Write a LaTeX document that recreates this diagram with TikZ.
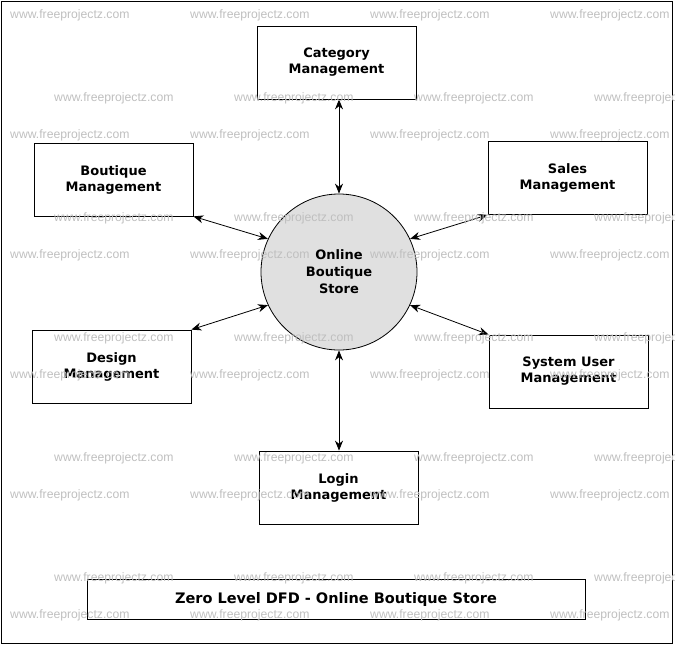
\documentclass[tikz,border=0pt]{standalone}
\usepackage{fontspec}
\setmainfont{DejaVu Sans}
\newfontfamily\wmfont{Liberation Sans}
\usetikzlibrary{arrows.meta}
\begin{document}
\begin{tikzpicture}[x=1pt,y=-1pt,
  proc/.style={draw,thick,minimum width=159pt,minimum height=73pt,align=center,font=\bfseries\fontsize{13}{16}\selectfont},
  flow/.style={thick,{Stealth[length=10pt,width=8pt]}-{Stealth[length=10pt,width=8pt]}},
  wm/.style={anchor=west,text=black!25,font=\wmfont\fontsize{12.2}{13}\selectfont,inner sep=0pt}]
\useasboundingbox (0,0) rectangle (675,646);
\draw[thick] (1,1) rectangle (672,643);
\node[proc] (cat) at (336.5,62.5) {Category\\Management};
\node[proc] (bou) at (113.5,179.5) {Boutique\\Management};
\node[proc] (sal) at (567.5,178) {Sales\\Management};
\node[proc] (des) at (111.5,366.5) {Design\\Management};
\node[proc] (sys) at (568.5,371.5) {System User\\Management};
\node[proc] (log) at (338.5,487.5) {Login\\Management};
\node[draw,thick,circle,fill=black!12,minimum size=156pt,align=center,font=\bfseries\fontsize{13}{17}\selectfont] (c) at (339,272) {Online\\Boutique\\Store};
\node[draw,thick,minimum width=498pt,minimum height=40pt,font=\bfseries\fontsize{14.5}{17}\selectfont] (t) at (336,599) {Zero Level DFD - Online Boutique Store};
\draw[flow] (cat.south -| c.north) -- (c.north);
\draw[flow] (bou.south east) -- (c.155);
\draw[flow] (sal.south west) -- (c.25);
\draw[flow] (des.north east) -- (c.205);
\draw[flow] (sys.north west) -- (c.335);
\draw[flow] (c.south) -- (log.north -| c.south);
\foreach \y in {15,135,255,375,495,615}{\foreach \x in {10,190,370,550}{\node[wm] at (\x,\y) {www.freeprojectz.com};}}
\foreach \y in {98,218,338,458,578}{\foreach \x in {54,234,414,594}{\node[wm] at (\x,\y) {www.freeprojectz.com};}}
\end{tikzpicture}
\end{document}
